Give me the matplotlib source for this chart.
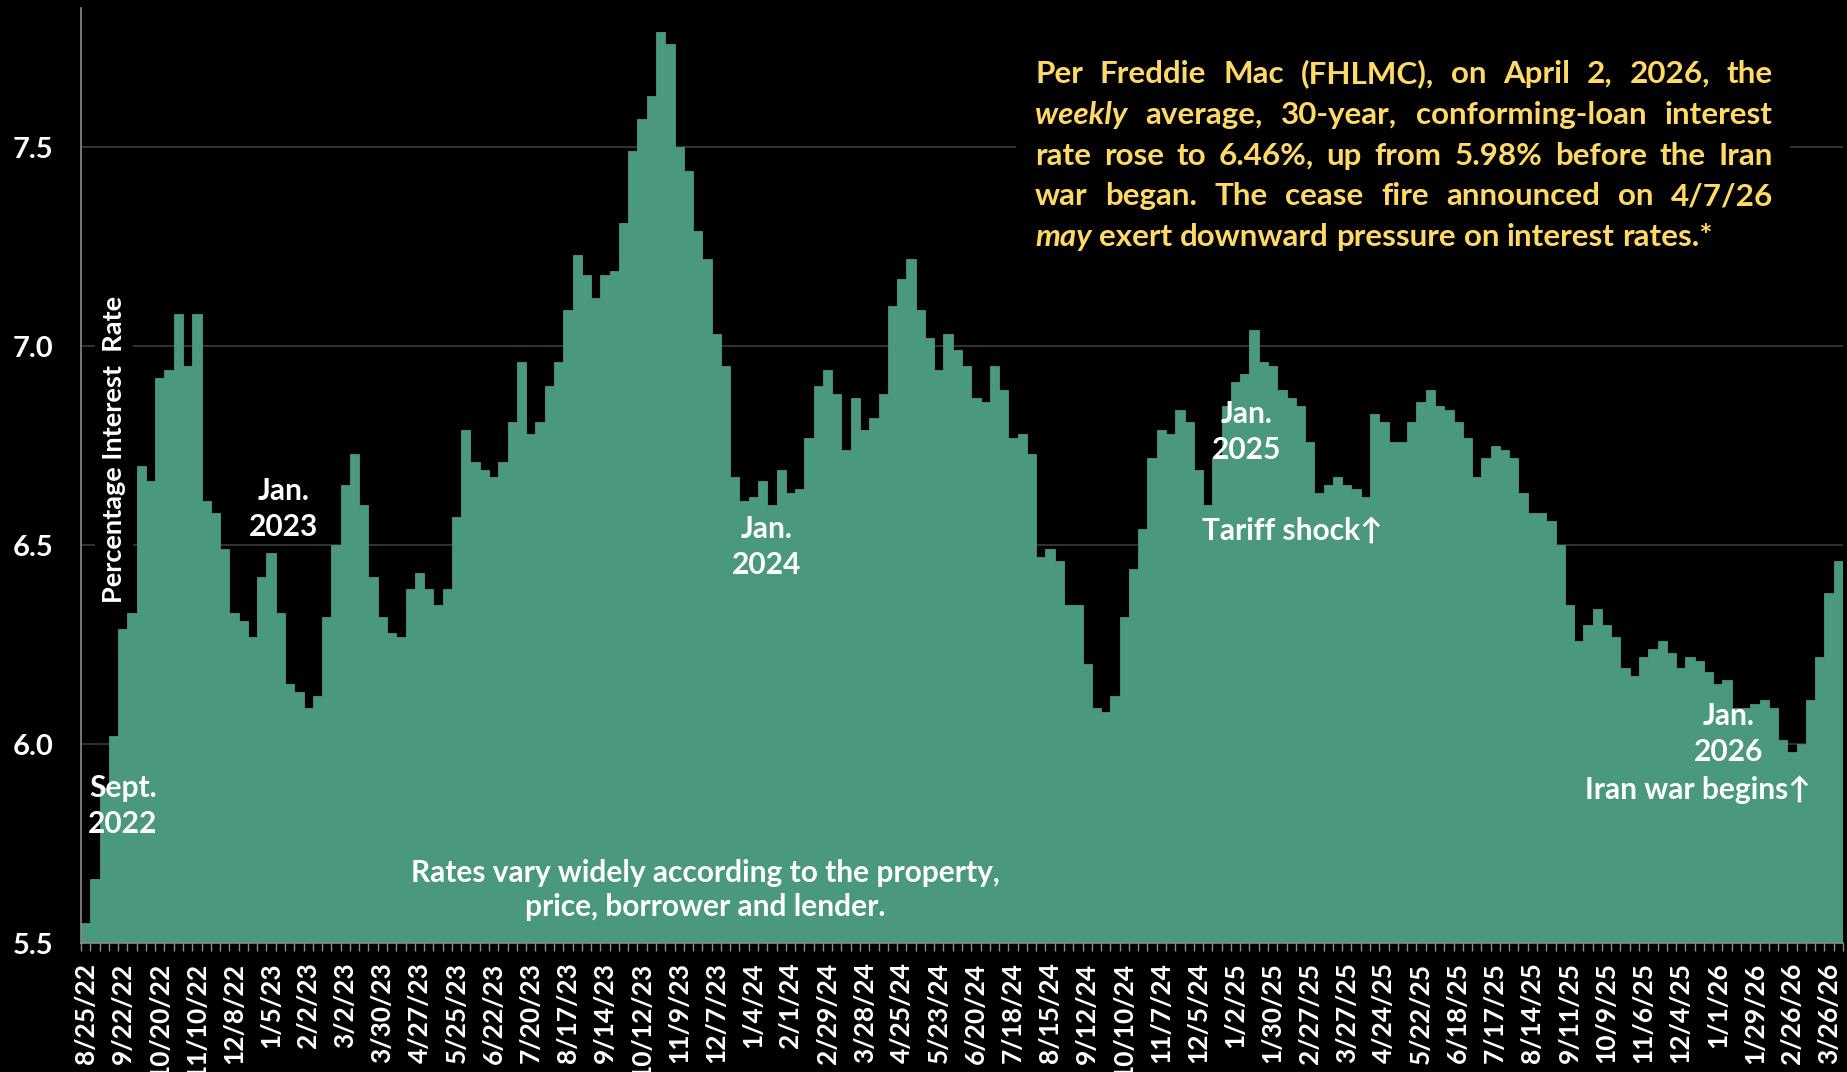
import matplotlib
matplotlib.use("Agg")
import matplotlib.pyplot as plt
import numpy as np
from matplotlib.patches import Rectangle

# ---------------- data (weekly 30-yr fixed rate, Freddie Mac PMMS) ----------------
rates_2022 = [5.55, 5.66, 5.89, 6.02, 6.29, 6.33, 6.70, 6.66, 6.92, 6.94, 7.08, 6.95,
              7.08, 6.61, 6.58, 6.49, 6.33, 6.31, 6.27, 6.42]
rates_2023 = [6.48, 6.33, 6.15, 6.13, 6.09, 6.12, 6.32, 6.50, 6.65, 6.73, 6.60, 6.42, 6.32,
              6.28, 6.27, 6.39, 6.43, 6.39, 6.35, 6.39, 6.57, 6.79, 6.71, 6.69, 6.67, 6.71,
              6.81, 6.96, 6.78, 6.81, 6.90, 6.96, 7.09, 7.23, 7.18, 7.12, 7.18, 7.19, 7.31,
              7.49, 7.57, 7.63, 7.79, 7.76, 7.50, 7.44, 7.29, 7.22, 7.03, 6.95, 6.67, 6.61]
rates_2024 = [6.62, 6.66, 6.60, 6.69, 6.63, 6.64, 6.77, 6.90, 6.94, 6.88, 6.74, 6.87, 6.79,
              6.82, 6.88, 7.10, 7.17, 7.22, 7.09, 7.02, 6.94, 7.03, 6.99, 6.95, 6.87, 6.86,
              6.95, 6.89, 6.77, 6.78, 6.73, 6.47, 6.49, 6.46, 6.35, 6.35, 6.20, 6.09, 6.08,
              6.12, 6.32, 6.44, 6.54, 6.72, 6.79, 6.78, 6.84, 6.81, 6.69, 6.60, 6.72, 6.85]
rates_2025 = [6.91, 6.93, 7.04, 6.96, 6.95, 6.89, 6.87, 6.85, 6.76, 6.63, 6.65, 6.67, 6.65,
              6.64, 6.62, 6.83, 6.81, 6.76, 6.76, 6.81, 6.86, 6.89, 6.85, 6.84, 6.81, 6.77,
              6.67, 6.72, 6.75, 6.74, 6.72, 6.63, 6.58, 6.58, 6.56, 6.50, 6.35, 6.26, 6.30,
              6.34, 6.30, 6.27, 6.19, 6.17, 6.22, 6.24, 6.26, 6.23, 6.19, 6.22, 6.21, 6.18]
rates_2026 = [6.15, 6.16, 6.09, 6.09, 6.10, 6.11, 6.09, 6.01, 5.98, 6.00, 6.11, 6.22,
              6.38, 6.46]

tick_labels = ["8/25/22", "9/22/22", "10/20/22", "11/10/22", "12/8/22", "1/5/23", "2/2/23",
               "3/2/23", "3/30/23", "4/27/23", "5/25/23", "6/22/23", "7/20/23", "8/17/23",
               "9/14/23", "10/12/23", "11/9/23", "12/7/23", "1/4/24", "2/1/24", "2/29/24",
               "3/28/24", "4/25/24", "5/23/24", "6/20/24", "7/18/24", "8/15/24", "9/12/24",
               "10/10/24", "11/7/24", "12/5/24", "1/2/25", "1/30/25", "2/27/25", "3/27/25",
               "4/24/25", "5/22/25", "6/18/25", "7/17/25", "8/14/25", "9/11/25", "10/9/25",
               "11/6/25", "12/4/25", "1/1/26", "1/29/26", "2/26/26", "3/26/26"]
tick_step = 4
y_ticks = [5.5, 6.0, 6.5, 7.0, 7.5]

rates = rates_2022 + rates_2023 + rates_2024 + rates_2025 + rates_2026

# ---------------- style ----------------
plt.rcParams["font.family"] = ["Lato", "DejaVu Sans"]
GREEN = "#4A997F"
YELLOW = "#FFD966"
W, H = 1847, 1072

fig = plt.figure(figsize=(W / 100, H / 100), dpi=100, facecolor="black")
ax = fig.add_axes([81 / W, 1 - 943 / H, (1843 - 81) / W, (943 - 8) / H])
ax.set_facecolor("black")

x = np.arange(len(rates))
ax.bar(x, rates, width=1.0, color=GREEN, edgecolor=GREEN, linewidth=0.6, zorder=2)

ax.set_xlim(-0.5, len(rates) - 0.5)
ax.set_ylim(5.5, 7.85)

ax.set_yticks(y_ticks)
ax.set_yticklabels([f"{v:.1f}" for v in y_ticks])
ax.tick_params(axis="y", length=0, pad=20, labelsize=21, labelcolor="white")
for t in ax.get_yticklabels():
    t.set_fontweight("bold")

ax.set_xticks(x[::tick_step])
ax.set_xticklabels(tick_labels, rotation=90)
ax.set_xticks(np.arange(len(rates) + 1) - 0.5, minor=True)
ax.tick_params(axis="x", which="major", length=0, pad=14, labelsize=19, labelcolor="white")
ax.tick_params(axis="x", which="minor", length=6, width=1, color="#8c8c8c")
for t in ax.get_xticklabels():
    t.set_fontweight("bold")

ax.yaxis.grid(True, color="#404040", linewidth=1.1)
ax.set_axisbelow(True)
for s in ["top", "right"]:
    ax.spines[s].set_visible(False)
for s in ["left", "bottom"]:
    ax.spines[s].set_color("#8c8c8c")
    ax.spines[s].set_linewidth(1.2)


def fx(px):
    return px / W


def fy(py):
    return 1 - py / H


# y-axis label (inside the plot, with black background)
ax.text(fx(114), fy(449), "Percentage Interest  Rate", transform=fig.transFigure,
        rotation=90, ha="center", va="center", color="white", fontsize=19.5,
        fontweight="bold",
        bbox=dict(facecolor="black", edgecolor="none", pad=5), zorder=5)

white_kw = dict(color="white", fontsize=21.5, fontweight="bold", ha="center", va="center",
                linespacing=1.36, zorder=5)
fig.text(fx(123), fy(806), "Sept.\n2022", **white_kw)
fig.text(fx(284), fy(509), "Jan.\n2023", **white_kw)
fig.text(fx(767), fy(547), "Jan.\n2024", **white_kw)
fig.text(fx(1247), fy(432), "Jan.\n2025", **white_kw)
fig.text(fx(1292), fy(531), "Tariff shock\u2191", **white_kw)
fig.text(fx(1729), fy(734), "Jan.\n2026", **white_kw)
fig.text(fx(1698), fy(790), "Iran war begins\u2191", **white_kw)
fig.text(fx(705), fy(890), "Rates vary widely according to the property,\nprice, borrower and lender.",
         **dict(white_kw, linespacing=1.25))

# black box behind the note
fig.add_artist(Rectangle((fx(1016), fy(262)), (1790 - 1016) / W, (262 - 38) / H,
                         transform=fig.transFigure, facecolor="black", edgecolor="none",
                         zorder=3))

# justified yellow note
note_lines = [
    "Per Freddie Mac (FHLMC), on April 2, 2026, the",
    "_weekly_ average, 30-year, conforming-loan interest",
    "rate rose to 6.46%, up from 5.98% before the Iran",
    "war began. The cease fire announced on 4/7/26",
    "_may_ exert downward pressure on interest rates.*",
]
note_fs = 22.6
left, right = 1035, 1773
baselines = [83, 124, 165, 205, 246]
renderer = fig.canvas.get_renderer()


def measure(s, style):
    t = fig.text(0, 0, s, fontsize=note_fs, fontweight="bold", fontstyle=style)
    w = t.get_window_extent(renderer).width
    t.remove()
    return w


space_w = measure("a a", "normal") - measure("aa", "normal")
for i, line in enumerate(note_lines):
    words = []
    for wd in line.split(" "):
        if wd.startswith("_") and wd.endswith("_"):
            words.append((wd.strip("_"), "italic"))
        else:
            words.append((wd, "normal"))
    widths = [measure(w, st) for w, st in words]
    if i < len(note_lines) - 1:
        gap = (right - left - sum(widths)) / (len(words) - 1)
    else:
        gap = space_w
    xpos = left
    for (w, st), wd in zip(words, widths):
        fig.text(fx(xpos), fy(baselines[i]), w, fontsize=note_fs, fontweight="bold",
                 fontstyle=st, color=YELLOW, ha="left", va="baseline", zorder=4)
        xpos += wd + gap

fig.savefig("out.png", dpi=100, facecolor="black")
